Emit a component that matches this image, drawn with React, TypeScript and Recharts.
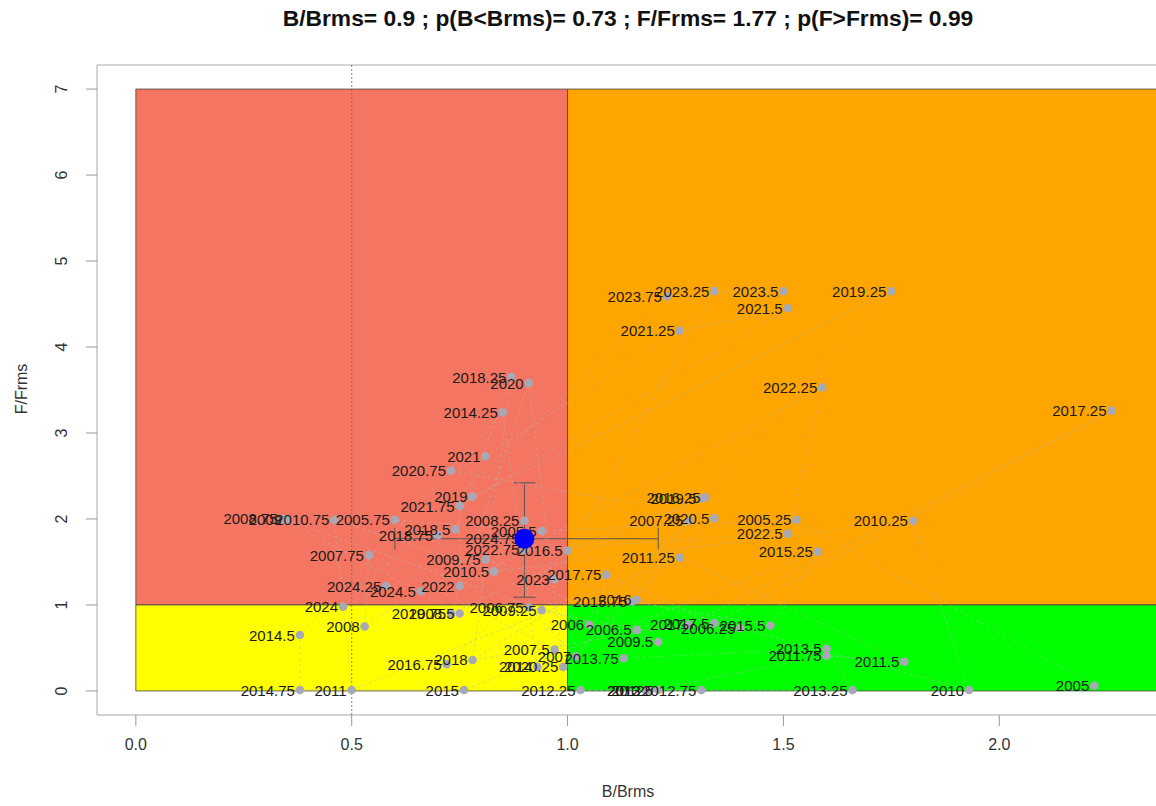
import {
  ScatterChart,
  Scatter,
  XAxis,
  YAxis,
  ReferenceArea,
  ReferenceLine,
  ErrorBar,
} from "recharts";

// quarterly time steps of the stock trajectory
const quarters = [
  2005, 2005.25, 2005.5, 2005.75, 2006, 2006.25, 2006.5, 2006.75,
  2007, 2007.25, 2007.5, 2007.75, 2008, 2008.25, 2008.5, 2008.75,
  2009, 2009.25, 2009.5, 2009.75, 2010, 2010.25, 2010.5, 2010.75,
  2011, 2011.25, 2011.5, 2011.75, 2012, 2012.25, 2012.5, 2012.75,
  2013, 2013.25, 2013.5, 2013.75, 2014, 2014.25, 2014.5, 2014.75,
  2015, 2015.25, 2015.5, 2015.75, 2016, 2016.25, 2016.5, 2016.75,
  2017, 2017.25, 2017.5, 2017.75, 2018, 2018.25, 2018.5, 2018.75,
  2019, 2019.25, 2019.5, 2019.75, 2020, 2020.25, 2020.5, 2020.75,
  2021, 2021.25, 2021.5, 2021.75, 2022, 2022.25, 2022.5, 2022.75,
  2023, 2023.25, 2023.5, 2023.75, 2024, 2024.25, 2024.5, 2024.75,
];

const bRatio = [
  2.22, 1.53, 0.94, 0.6, 1.05, 1.4, 1.16, 0.91,
  1.02, 1.28, 0.97, 0.54, 0.53, 0.9, 0.75, 0.34,
  0.35, 0.94, 1.21, 0.81, 1.93, 1.8, 0.83, 0.46,
  0.5, 1.26, 1.78, 1.6, 1.19, 1.03, 1.21, 1.31,
  1.18, 1.66, 1.6, 1.13, 0.93, 0.85, 0.38, 0.38,
  0.76, 1.58, 1.47, 1.15, 1.16, 1.32, 1.0, 0.72,
  1.28, 2.26, 1.34, 1.09, 0.78, 0.87, 0.74, 0.7,
  0.78, 1.75, 1.31, 0.73, 0.91, 0.99, 1.34, 0.73,
  0.81, 1.26, 1.51, 0.75, 0.75, 1.59, 1.51, 0.9,
  0.97, 1.34, 1.5, 1.23, 0.48, 0.58, 0.66, 0.9,
];

const fRatio = [
  0.06, 1.99, 1.86, 1.99, 0.77, 0.73, 0.71, 0.97,
  0.4, 1.98, 0.48, 1.58, 0.75, 1.98, 0.9, 2.0,
  1.99, 0.94, 0.57, 1.53, 0.01, 1.98, 1.39, 1.99,
  0.01, 1.55, 0.34, 0.41, 0.01, 0.01, 0.01, 0.01,
  0.01, 0.01, 0.49, 0.38, 0.28, 3.24, 0.65, 0.01,
  0.01, 1.62, 0.76, 1.04, 1.06, 2.25, 1.63, 0.31,
  0.77, 3.26, 0.79, 1.35, 0.36, 3.65, 1.88, 1.81,
  2.26, 4.65, 2.24, 0.9, 3.58, 0.28, 2.01, 2.56,
  2.73, 4.19, 4.45, 2.15, 1.22, 3.53, 1.83, 1.64,
  1.3, 4.65, 4.65, 4.59, 0.98, 1.22, 1.16, 1.77,
];

// last year estimate with its confidence interval
const finalB = 0.9;
const finalF = 1.77;
const bInterval = [0.6, 1.21];
const fInterval = [1.09, 2.42];

const xTicks = [0, 0.5, 1, 1.5, 2];
const yTicks = [0, 1, 2, 3, 4, 5, 6, 7];

const FONT = '"Liberation Sans", Arial, sans-serif';

const track = quarters.map((q, i) => ({ year: q, b: bRatio[i], f: fRatio[i] }));

const current = [
  {
    b: finalB,
    f: finalF,
    bErr: [finalB - bInterval[0], bInterval[1] - finalB],
    fErr: [finalF - fInterval[0], fInterval[1] - finalF],
  },
];

const YTick = (props: any) => {
  const { x, y, payload } = props;
  return (
    <text
      x={x}
      y={y}
      transform={`rotate(-90, ${x}, ${y})`}
      textAnchor="middle"
      dominantBaseline="central"
      fontSize={16}
      fill="#333"
      fontFamily={FONT}
    >
      {payload.value}
    </text>
  );
};

const GreyDot = (props: any) => (
  <circle cx={props.cx} cy={props.cy} r={4.3} fill="#a9a9b6" />
);

const YearLabel = (props: any) => (
  <text
    x={props.cx - 5}
    y={props.cy}
    textAnchor="end"
    dominantBaseline="central"
    fontSize={15}
    fill="#1a1a1a"
    fontFamily={FONT}
  >
    {String(props.payload.year)}
  </text>
);

const BlueDot = (props: any) => (
  <circle cx={props.cx} cy={props.cy} r={10} fill="#0000ff" />
);

export default function App() {
  return (
    <div
      style={{
        position: "fixed",
        left: 0,
        top: 0,
        width: 1156,
        height: 806,
        overflow: "hidden",
        background: "#fff",
        fontFamily: FONT,
      }}
    >
      <div
        style={{
          position: "absolute",
          top: 5,
          left: 128,
          width: 1000,
          textAlign: "center",
          fontWeight: "bold",
          fontSize: 22.8,
          color: "#111",
        }}
      >
        B/Brms= 0.9 ; p(B&lt;Brms)= 0.73 ; F/Frms= 1.77 ; p(F&gt;Frms)= 0.99
      </div>
      <div
        style={{
          position: "absolute",
          top: 783,
          left: 528,
          width: 200,
          textAlign: "center",
          fontSize: 16,
          color: "#333",
        }}
      >
        B/Brms
      </div>
      <div
        style={{
          position: "absolute",
          top: 380,
          left: -78,
          width: 200,
          textAlign: "center",
          fontSize: 16,
          color: "#333",
          transform: "rotate(-90deg)",
        }}
      >
        F/Frms
      </div>
      <div style={{ position: "absolute", left: 0, top: 0 }}>
        <ScatterChart
          width={1180}
          height={806}
          margin={{ top: 65, right: 21, bottom: 0, left: 0 }}
        >
          <XAxis
            type="number"
            dataKey="b"
            domain={[-0.09, 2.37]}
            allowDataOverflow
            ticks={xTicks}
            tickFormatter={(v: number) => v.toFixed(1)}
            height={91}
            axisLine={false}
            tickSize={11}
            tickMargin={13}
            tickLine={{ stroke: "#999" }}
            tick={{ fontSize: 16, fill: "#333", fontFamily: FONT }}
          />
          <YAxis
            type="number"
            dataKey="f"
            domain={[-0.28, 7.28]}
            allowDataOverflow
            ticks={yTicks}
            width={97}
            axisLine={false}
            tickSize={11}
            tickMargin={24}
            tickLine={{ stroke: "#999" }}
            tick={<YTick />}
          />
          <ReferenceArea x1={-0.09} x2={2.37} y1={-0.28} y2={7.28} fill="#fff" fillOpacity={0} stroke="#aaa" ifOverflow="visible" />
          <ReferenceArea x1={0} x2={1} y1={1} y2={7} fill="#f47562" fillOpacity={1} stroke="#444" strokeWidth={0.8} />
          <ReferenceArea x1={1} x2={2.37} y1={1} y2={7} fill="#ffa500" fillOpacity={1} stroke="#444" strokeWidth={0.8} />
          <ReferenceArea x1={0} x2={1} y1={0} y2={1} fill="#ffff00" fillOpacity={1} stroke="#444" strokeWidth={0.8} />
          <ReferenceArea x1={1} x2={2.37} y1={0} y2={1} fill="#00ff00" fillOpacity={1} stroke="#444" strokeWidth={0.8} />
          <ReferenceLine x={0.5} stroke="#666" strokeDasharray="2 2" strokeWidth={0.8} />
          <Scatter
            data={track}
            shape={<GreyDot />}
            line={{ stroke: "#b8b8b8", strokeOpacity: 0.45, strokeWidth: 1, strokeDasharray: "3 3" }}
            lineType="joint"
            isAnimationActive={false}
          />
          <Scatter data={track} shape={<YearLabel />} isAnimationActive={false} />
          <Scatter data={current} shape={<BlueDot />} isAnimationActive={false}>
            <ErrorBar dataKey="bErr" direction="x" width={11} stroke="#555" strokeWidth={1} />
            <ErrorBar dataKey="fErr" direction="y" width={11} stroke="#555" strokeWidth={1} />
          </Scatter>
        </ScatterChart>
      </div>
    </div>
  );
}
